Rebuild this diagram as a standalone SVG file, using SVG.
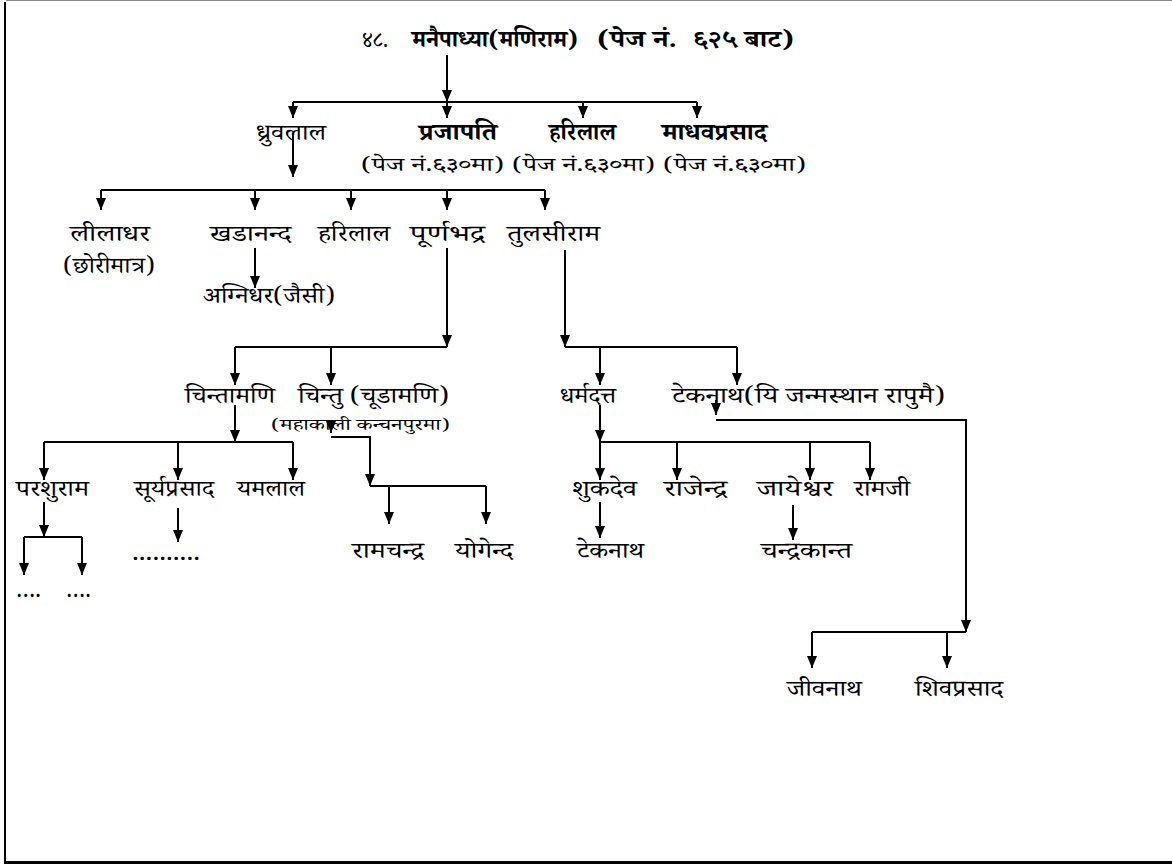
<svg xmlns="http://www.w3.org/2000/svg" width="1172" height="867" viewBox="0 0 1172 867">
<style>
text{font-family:"Noto Serif Devanagari","Noto Sans Devanagari","Lohit Devanagari","Noto Sans",serif;fill:#000;font-size:23px;white-space:pre}
.b{font-weight:bold}
.s{font-size:16px}
.p{font-size:19px}
.c{fill:none;stroke:#000;stroke-width:2}
.a{marker-end:url(#ah)}
</style>
<defs>
<marker id="ah" markerUnits="userSpaceOnUse" viewBox="0 0 12 10" refX="12" refY="5" markerWidth="12" markerHeight="10" orient="auto">
<path d="M0,0 L12,5 L0,10 z" fill="#000"/>
</marker>
</defs>
<rect width="1172" height="867" fill="#fff"/>
<g id="frame">
<line x1="6" y1="0.5" x2="1172" y2="0.5" stroke="#888" stroke-width="1"/>
<line x1="5" y1="2" x2="5" y2="863" stroke="#000" stroke-width="2"/>
<line x1="4" y1="862.5" x2="1172" y2="862.5" stroke="#000" stroke-width="3"/>
</g>
<g id="connectors">
<path class="c a" d="M447,55 V102"/>
<path class="c" d="M293,102 H697"/>
<path class="c a" d="M293,102 V118"/>
<path class="c a" d="M447,102 V118"/>
<path class="c a" d="M583,102 V118"/>
<path class="c a" d="M697,102 V118"/>
<path class="c a" d="M293,135 V177"/>
<path class="c" d="M101,190 H545"/>
<path class="c a" d="M101,190 V210"/>
<path class="c a" d="M255,190 V210"/>
<path class="c a" d="M351,190 V210"/>
<path class="c a" d="M447,190 V210"/>
<path class="c a" d="M545,190 V210"/>
<path class="c a" d="M255,248 V288"/>
<path class="c a" d="M447,248 V347"/>
<path class="c" d="M235,347 H447"/>
<path class="c a" d="M235,347 V385"/>
<path class="c a" d="M331,347 V385"/>
<path class="c a" d="M565,250 V347"/>
<path class="c" d="M565,347 H737"/>
<path class="c a" d="M600,347 V385"/>
<path class="c a" d="M737,347 V385"/>
<path class="c a" d="M235,405 V442"/>
<path class="c" d="M44,442 H293"/>
<path class="c a" d="M44,442 V480"/>
<path class="c a" d="M178,442 V480"/>
<path class="c a" d="M293,442 V480"/>
<path class="c a" d="M44,502 V537"/>
<path class="c" d="M24,537 H82"/>
<path class="c a" d="M24,537 V575"/>
<path class="c a" d="M82,537 V575"/>
<path class="c a" d="M178,508 V542"/>
<path class="c a" d="M331,420 V433"/>
<path class="c a" d="M331,437 H370 V486"/>
<path class="c" d="M370,486 H486"/>
<path class="c a" d="M389,486 V524"/>
<path class="c a" d="M486,486 V524"/>
<path class="c a" d="M600,405 V442"/>
<path class="c" d="M600,442 H870"/>
<path class="c a" d="M600,442 V480"/>
<path class="c a" d="M677,442 V480"/>
<path class="c a" d="M810,442 V480"/>
<path class="c a" d="M870,442 V480"/>
<path class="c a" d="M600,502 V538"/>
<path class="c a" d="M793,505 V540"/>
<path class="c a" d="M716,400 V415"/>
<path class="c a" d="M716,420 H966 V632"/>
<path class="c" d="M812,632 H966"/>
<path class="c a" d="M812,632 V668"/>
<path class="c a" d="M947,632 V668"/>
</g>
<g id="n-title">
<text x="362" y="47" font-size="24" textLength="26" lengthAdjust="spacingAndGlyphs">४८.</text>
<text x="412" y="47" font-size="24" class="b" textLength="166" lengthAdjust="spacingAndGlyphs">मनैपाध्या(मणिराम)</text>
<text x="597" y="47" font-size="24" class="b" textLength="197" lengthAdjust="spacingAndGlyphs">(पेज नं.  ६२५ बाट)</text>
</g>
<g id="n-dhruvalal"><text x="256" y="140" textLength="70" lengthAdjust="spacingAndGlyphs">ध्रुवलाल</text></g>
<g id="n-prajapati"><text x="419" y="140" class="b" textLength="78" lengthAdjust="spacingAndGlyphs">प्रजापति</text><text x="361" y="171" class="p" textLength="143" lengthAdjust="spacingAndGlyphs">(पेज नं.६३०मा)</text></g>
<g id="n-harilal1"><text x="549" y="140" class="b" textLength="67" lengthAdjust="spacingAndGlyphs">हरिलाल</text><text x="512" y="171" class="p" textLength="143" lengthAdjust="spacingAndGlyphs">(पेज नं.६३०मा)</text></g>
<g id="n-madhav"><text x="662" y="140" class="b" textLength="105" lengthAdjust="spacingAndGlyphs">माधवप्रसाद</text><text x="663" y="171" class="p" textLength="143" lengthAdjust="spacingAndGlyphs">(पेज नं.६३०मा)</text></g>
<g id="n-liladhar"><text x="70" y="241" textLength="80" lengthAdjust="spacingAndGlyphs">लीलाधर</text><text x="63" y="273" textLength="92" lengthAdjust="spacingAndGlyphs">(छोरीमात्र)</text></g>
<g id="n-khadananda"><text x="210" y="241" textLength="81" lengthAdjust="spacingAndGlyphs">खडानन्द</text></g>
<g id="n-agnidhar"><text x="203" y="303" textLength="132" lengthAdjust="spacingAndGlyphs">अग्निधर(जैसी)</text></g>
<g id="n-harilal2"><text x="318" y="241" textLength="72" lengthAdjust="spacingAndGlyphs">हरिलाल</text></g>
<g id="n-purnabhadra"><text x="410" y="241" textLength="75" lengthAdjust="spacingAndGlyphs">पूर्णभद्र</text></g>
<g id="n-tulsiram"><text x="507" y="241" textLength="93" lengthAdjust="spacingAndGlyphs">तुलसीराम</text></g>
<g id="n-chintamani"><text x="185" y="403" textLength="90" lengthAdjust="spacingAndGlyphs">चिन्तामणि</text></g>
<g id="n-chintu"><text x="298" y="403" textLength="151" lengthAdjust="spacingAndGlyphs">चिन्तु (चूडामणि)</text><text x="271" y="430" class="s" textLength="179" lengthAdjust="spacingAndGlyphs">(महाकाली कन्चनपुरमा)</text></g>
<g id="n-parshuram"><text x="16" y="496" textLength="73" lengthAdjust="spacingAndGlyphs">परशुराम</text></g>
<g id="n-dots1"><text x="16" y="597" textLength="25" lengthAdjust="spacingAndGlyphs">….</text><text x="66" y="597" textLength="25" lengthAdjust="spacingAndGlyphs">….</text></g>
<g id="n-suryaprasad"><text x="134" y="496" textLength="80" lengthAdjust="spacingAndGlyphs">सूर्यप्रसाद</text></g>
<g id="n-dots2"><text x="132" y="560" textLength="68" lengthAdjust="spacingAndGlyphs">..........</text></g>
<g id="n-yamlal"><text x="237" y="496" textLength="68" lengthAdjust="spacingAndGlyphs">यमलाल</text></g>
<g id="n-ramchandra"><text x="352" y="558" textLength="72" lengthAdjust="spacingAndGlyphs">रामचन्द्र</text></g>
<g id="n-yogenda"><text x="455" y="558" textLength="58" lengthAdjust="spacingAndGlyphs">योगेन्द</text></g>
<g id="n-dharmadatta"><text x="560" y="403" textLength="56" lengthAdjust="spacingAndGlyphs">धर्मदत्त</text></g>
<g id="n-teknath1"><text x="672" y="403" textLength="273" lengthAdjust="spacingAndGlyphs">टेकनाथ(यि जन्मस्थान रापुमै)</text></g>
<g id="n-shukdev"><text x="572" y="496" textLength="65" lengthAdjust="spacingAndGlyphs">शुकदेव</text></g>
<g id="n-rajendra"><text x="664" y="496" textLength="63" lengthAdjust="spacingAndGlyphs">राजेन्द्र</text></g>
<g id="n-jayeshwar"><text x="757" y="496" textLength="76" lengthAdjust="spacingAndGlyphs">जायेश्वर</text></g>
<g id="n-ramji"><text x="854" y="496" textLength="56" lengthAdjust="spacingAndGlyphs">रामजी</text></g>
<g id="n-teknath2"><text x="577" y="558" textLength="67" lengthAdjust="spacingAndGlyphs">टेकनाथ</text></g>
<g id="n-chandrakanta"><text x="761" y="558" textLength="91" lengthAdjust="spacingAndGlyphs">चन्द्रकान्त</text></g>
<g id="n-jivanath"><text x="787" y="696" textLength="75" lengthAdjust="spacingAndGlyphs">जीवनाथ</text></g>
<g id="n-shivprasad"><text x="915" y="696" textLength="88" lengthAdjust="spacingAndGlyphs">शिवप्रसाद</text></g>
</svg>
